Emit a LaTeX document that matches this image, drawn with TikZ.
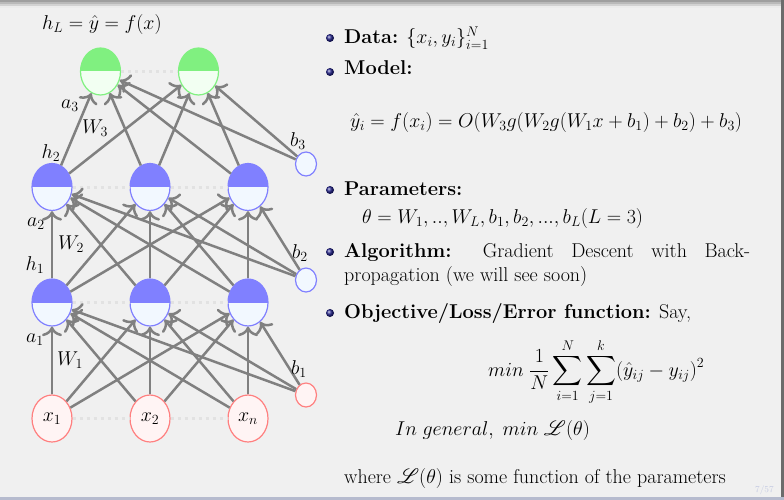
\RequirePackage{fix-cm}
\documentclass[tikz,border=0pt]{standalone}
\usepackage{amsmath}
\usepackage{mathrsfs}
\usetikzlibrary{shapes.geometric,arrows.meta}
\definecolor{bg}{HTML}{F0F0F0}
\definecolor{nblue}{HTML}{8080FF}
\definecolor{nbluel}{HTML}{F2F8FF}
\definecolor{ngreen}{HTML}{80F080}
\definecolor{ngreenl}{HTML}{F2FFF2}
\definecolor{nred}{HTML}{FF8080}
\definecolor{nredl}{HTML}{FFF4F4}
\definecolor{conn}{HTML}{808080}
\definecolor{dotc}{HTML}{E2E2E2}
\definecolor{bulletc}{HTML}{22228C}
\definecolor{navc}{HTML}{C4CAE2}
\tikzset{
  neuron/.style={ellipse, minimum width=40pt, minimum height=47pt, inner sep=0pt, line width=1.2pt},
  halftop/.style={path picture={\fill[#1] (path picture bounding box.north west) rectangle (path picture bounding box.east);}},
  outn/.style={neuron, draw=ngreen, fill=ngreenl, halftop=ngreen},
  hidn/.style={neuron, draw=nblue, fill=nbluel, halftop=nblue},
  inn/.style={neuron, draw=nred, fill=nredl},
  biasb/.style={ellipse, minimum width=21pt, minimum height=24pt, inner sep=0pt, line width=1.2pt, draw=nblue, fill=nbluel},
  biasr/.style={ellipse, minimum width=21pt, minimum height=24pt, inner sep=0pt, line width=1.2pt, draw=nred, fill=nredl},
  edge/.style={-{To[scale=1.35]}, draw=conn, line width=2.5pt},
  dotline/.style={draw=dotc, line width=3pt, dash pattern=on 3pt off 4pt},
  bul/.style={ball color=bulletc},
  txt/.style={anchor=base west, inner sep=0pt},
}
\begin{document}
\begin{tikzpicture}[x=1pt, y=-1pt, font=\fontsize{20}{24}\selectfont]
  % slide background and frame
  \fill[bg] (0,0) rectangle (784,500);
  \useasboundingbox (0,0) rectangle (784,500);
  \fill[gray!75] (0,0) rectangle (784,2);
  \fill[gray!55] (0,2) rectangle (784,4);
  \fill[gray!35] (0,4) rectangle (784,6);
  \fill[gray!15] (0,6) rectangle (784,8);
  \fill[gray!85!black] (781,0) rectangle (784,500);
  \fill[navc!80!gray] (0,497) rectangle (784,500);

  % neurons
  \node[outn] (o1) at (100.5,71.5) {};
  \node[outn] (o2) at (198.5,71.5) {};
  \node[hidn] (h21) at (52,187) {};
  \node[hidn] (h22) at (150,187) {};
  \node[hidn] (h23) at (248,187) {};
  \node[hidn] (h11) at (52,302.5) {};
  \node[hidn] (h12) at (150,302.5) {};
  \node[hidn] (h13) at (248,302.5) {};
  \node[inn] (x1) at (52,418.5) {$x_1$};
  \node[inn] (x2) at (150,418.5) {$x_2$};
  \node[inn] (x3) at (248,418.5) {$x_n$};
  \node[biasb] (b3n) at (306,164) {};
  \node[biasb] (b2n) at (306,280) {};
  \node[biasr] (b1n) at (306,395) {};

  % dotted links inside each layer
  \draw[dotline] (o1.east) -- (o2.west);
  \draw[dotline] (h21.east) -- (h22.west);
  \draw[dotline] (h22.east) -- (h23.west);
  \draw[dotline] (h11.east) -- (h12.west);
  \draw[dotline] (h12.east) -- (h13.west);
  \draw[dotline] (x1.east) -- (x2.west);
  \draw[dotline] (x2.east) -- (x3.west);

  % weighted connections
  \foreach \s in {x1,x2,x3,b1n} \foreach \t in {h11,h12,h13} \draw[edge] (\s) -- (\t);
  \foreach \s in {h11,h12,h13,b2n} \foreach \t in {h21,h22,h23} \draw[edge] (\s) -- (\t);
  \foreach \s in {h21,h22,h23,b3n} \foreach \t in {o1,o2} \draw[edge] (\s) -- (\t);

  % layer labels
  \node[txt] (top) at (42,30) {$h_L=\hat{y}=f(x)$};
  \node (la3) at (70,106) {$a_3$};
  \node (lw3) at (95,128) {$W_3$};
  \node (lh2) at (51,153) {$h_2$};
  \node (lb3) at (298,141) {$b_3$};
  \node (la2) at (36,224) {$a_2$};
  \node (lw2) at (71,244) {$W_2$};
  \node (lh1) at (35,265) {$h_1$};
  \node (lb2) at (300,253) {$b_2$};
  \node (la1) at (35,340) {$a_1$};
  \node (lw1) at (70,360) {$W_1$};
  \node (lb1) at (299,369) {$b_1$};

  % bullet list
  \shade[bul] (330,38) circle (4);
  \shade[bul] (330,72) circle (4);
  \shade[bul] (330,190) circle (4);
  \shade[bul] (330,252) circle (4);
  \shade[bul] (330,313) circle (4);
  \node[txt] (t1) at (344,44) {\textbf{Data:} $\{x_i,y_i\}_{i=1}^N$};
  \node[txt] (t2) at (344,75) {\textbf{Model:}};
  \node[txt] (t3) at (350,128) {$\hat{y}_i=f(x_i)=O(W_3g(W_2g(W_1x+b_1)+b_2)+b_3)$};
  \node[txt] (t4) at (344,195) {\textbf{Parameters:}};
  \node[txt] (t5) at (362,223) {$\theta=W_1,..,W_L,b_1,b_2,...,b_L(L=3)$};
  \node[txt, text width=406pt, align=justify] (t6) at (344,257)
    {\textbf{Algorithm:} Gradient Descent with Back-\linebreak propagation (we will see soon)};
  \node[txt] (t7) at (344,318) {\textbf{Objective/Loss/Error function:} Say,};
  \node[txt] (t8) at (488,376) {$\displaystyle min\;\frac{1}{N}\sum_{i=1}^{N}\sum_{j=1}^{k}(\hat{y}_{ij}-y_{ij})^2$};
  \node[txt] (t9) at (395,435) {$In\;general,\;min\;\mathscr{L}(\theta)$};
  \node[txt] (t10) at (344,483) {where $\mathscr{L}(\theta)$ is some function of the parameters};
  \node[txt, font=\fontsize{9}{10}\selectfont, text=navc] (pg) at (755,492) {7/57};
\end{tikzpicture}
\end{document}
